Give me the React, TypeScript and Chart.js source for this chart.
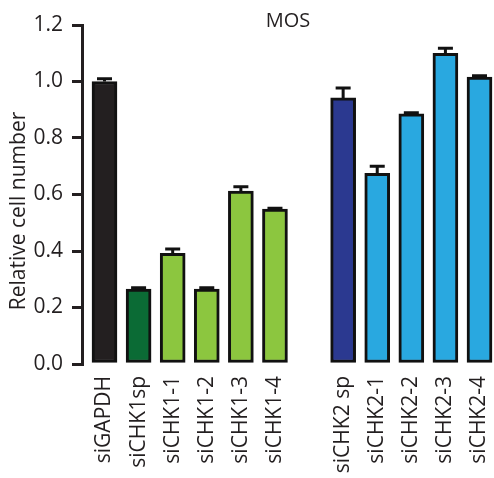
import React, { useEffect, useRef } from "react";
import { Chart, registerables } from "chart.js";

Chart.register(...registerables);

const categories = [
  "siGAPDH",
  "siCHK1sp",
  "siCHK1-1",
  "siCHK1-2",
  "siCHK1-3",
  "siCHK1-4",
  "siCHK2 sp",
  "siCHK2-1",
  "siCHK2-2",
  "siCHK2-3",
  "siCHK2-4",
];
// slot positions on the x axis (slot 6 is the empty gap between the groups)
const positions = [0, 1, 2, 3, 4, 5, 7, 8, 9, 10, 11];
const values = [1.0, 0.265, 0.392, 0.265, 0.612, 0.548, 0.942, 0.675, 0.886, 1.1, 1.016];
const errors = [0.01, 0.005, 0.015, 0.005, 0.015, 0.003, 0.035, 0.025, 0.003, 0.018, 0.004];
const colors = [
  "#231f20",
  "#0b6b35",
  "#8cc63f",
  "#8cc63f",
  "#8cc63f",
  "#8cc63f",
  "#2b3990",
  "#29a8e0",
  "#29a8e0",
  "#29a8e0",
  "#29a8e0",
];
const yTicks = [0, 0.2, 0.4, 0.6, 0.8, 1.0, 1.2];
const title = "MOS";
const yTitle = "Relative cell number";

const FONT = "'Open Sans', 'DejaVu Sans', sans-serif";
const INK = "#231f20";

export default function App() {
  const ref = useRef<HTMLCanvasElement | null>(null);

  useEffect(() => {
    if (!ref.current) return;

    const extras = {
      id: "extras",
      afterDatasetsDraw(chart: any) {
        const ctx = chart.ctx;
        const ys = chart.scales.y;
        const meta = chart.getDatasetMeta(0);
        ctx.save();
        ctx.strokeStyle = "#111";
        ctx.lineWidth = 3;
        meta.data.forEach((el: any, i: number) => {
          const x = el.x;
          const yTop = ys.getPixelForValue(values[i]);
          const yErr = ys.getPixelForValue(values[i] + errors[i]);
          ctx.beginPath();
          ctx.moveTo(x, yTop);
          ctx.lineTo(x, yErr);
          ctx.moveTo(x - 7.5, yErr);
          ctx.lineTo(x + 7.5, yErr);
          ctx.stroke();
        });
        ctx.restore();
      },
      afterDraw(chart: any) {
        const ctx = chart.ctx;
        const area = chart.chartArea;
        ctx.save();
        ctx.fillStyle = INK;
        ctx.font = `20px ${FONT}`;
        ctx.textAlign = "center";
        ctx.textBaseline = "middle";
        ctx.fillText(title, (area.left + area.right) / 2, 21);
        ctx.translate(19, 211);
        ctx.rotate(-Math.PI / 2);
        ctx.font = `21px ${FONT}`;
        ctx.fillText(yTitle, 0, 0);
        ctx.restore();
      },
    };

    const chart = new Chart(ref.current, {
      type: "bar",
      data: {
        datasets: [
          {
            data: positions.map((p, i) => ({ x: p, y: values[i] })),
            backgroundColor: colors,
            borderColor: "#111",
            borderWidth: 3,
            borderSkipped: false,
            barThickness: 25,
          } as any,
        ],
      },
      options: {
        responsive: false,
        animation: false,
        devicePixelRatio: 1,
        layout: { padding: { top: 25, left: 0, right: 0, bottom: 0 } },
        plugins: {
          legend: { display: false },
          tooltip: { enabled: false },
          title: { display: false },
        },
        scales: {
          x: {
            type: "linear",
            offset: false,
            min: -0.66,
            max: 11.425,
            afterBuildTicks: (scale: any) => {
              scale.ticks = positions.map((p) => ({ value: p }));
            },
            afterFit: (scale: any) => {
              scale.height = 114;
              scale.paddingLeft = 0;
              scale.paddingRight = 0;
            },
            grid: { display: false, offset: false },
            border: { display: false },
            ticks: {
              autoSkip: false,
              minRotation: 90,
              maxRotation: 90,
              padding: 4,
              color: INK,
              font: { size: 21, family: FONT },
              callback: (v: any) => {
                const idx = positions.indexOf(Number(v));
                return idx >= 0 ? categories[idx] : "";
              },
            },
          },
          y: {
            min: 0,
            max: 1.2,
            afterBuildTicks: (scale: any) => {
              scale.ticks = yTicks.map((v) => ({ value: v }));
            },
            afterFit: (scale: any) => {
              scale.width = 82;
            },
            grid: {
              drawOnChartArea: false,
              drawTicks: true,
              tickLength: 10,
              lineWidth: 3,
              color: INK,
            },
            border: { display: true, width: 3, color: INK },
            ticks: {
              padding: 9,
              color: INK,
              font: { size: 21, family: FONT },
              callback: (v: any) => Number(v).toFixed(1),
            },
          },
        },
      } as any,
      plugins: [extras],
    });

    return () => chart.destroy();
  }, []);

  return (
    <div style={{ position: "absolute", left: 0, top: 0, width: 494, height: 478, background: "#fff" }}>
      <canvas ref={ref} width={494} height={478} style={{ display: "block" }} />
    </div>
  );
}
